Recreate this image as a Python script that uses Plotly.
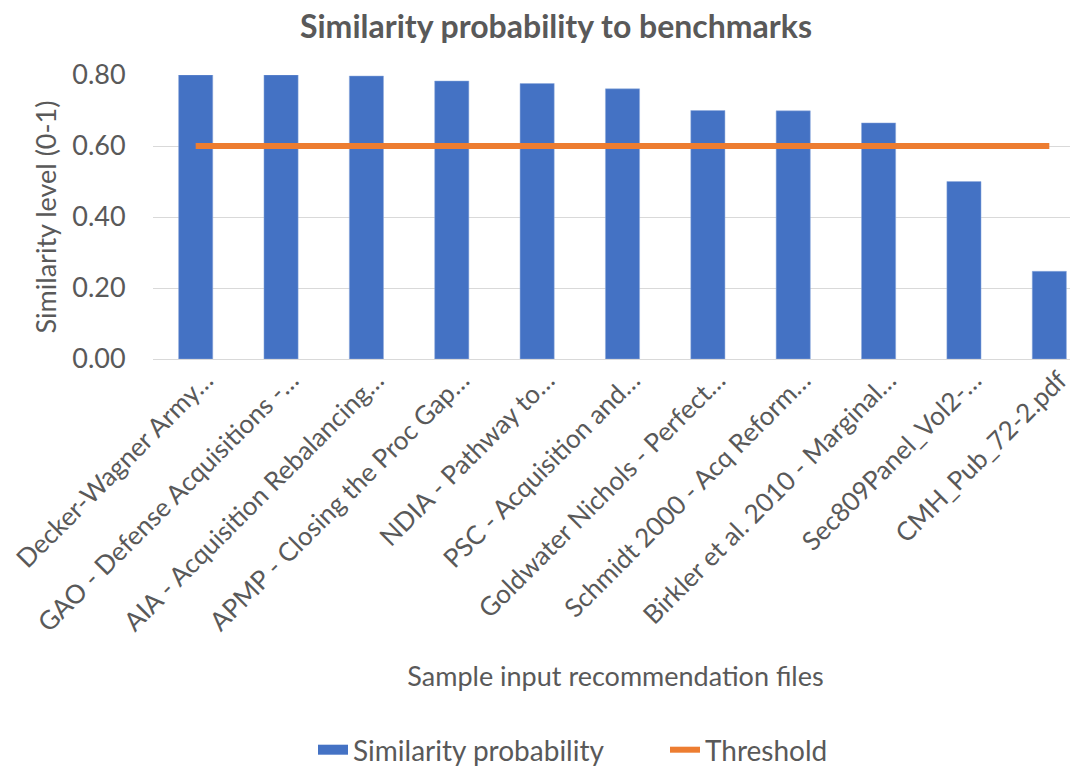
import plotly.graph_objects as go

categories = [
    "Decker-Wagner Army…",
    "GAO - Defense Acquisitions -…",
    "AIA - Acquisition Rebalancing…",
    "APMP - Closing the Proc Gap…",
    "NDIA - Pathway to…",
    "PSC - Acquisition and…",
    "Goldwater Nichols - Perfect…",
    "Schmidt 2000 - Acq Reform…",
    "Birkler et al. 2010 - Marginal…",
    "Sec809Panel_Vol2-…",
    "CMH_Pub_72-2.pdf",
]
similarity = [0.80, 0.80, 0.797, 0.783, 0.776, 0.761, 0.70, 0.699, 0.665, 0.50, 0.247]
threshold = [0.60] * len(categories)
y_ticks = [0.0, 0.2, 0.4, 0.6, 0.8]

FONT = "Lato"
GREY = "#595959"
BLUE = "#4472C4"
ORANGE = "#ED7D31"
FS = 27
W, H = 1070, 758  # page body has an 8px margin

fig = go.Figure()
fig.add_trace(go.Bar(
    x=categories, y=similarity, name="Similarity probability",
    marker=dict(color=BLUE, line=dict(color="#8FAADC", width=0.5)),
    showlegend=False,
))
# legend swatch for the bars (wide rectangle like the original)
fig.add_trace(go.Scatter(
    x=[None], y=[None], name="Similarity probability", mode="lines",
    line=dict(color=BLUE, width=17), showlegend=True,
))
fig.add_trace(go.Scatter(
    x=categories, y=threshold, name="Threshold", mode="lines",
    line=dict(color=ORANGE, width=6), showlegend=True,
))

fig.update_layout(
    width=W, height=H,
    margin=dict(l=145, r=0, t=67, b=407, autoexpand=False),
    paper_bgcolor="white", plot_bgcolor="white",
    bargap=0.6,
    font=dict(family=FONT, color=GREY, size=FS),
    title=dict(text="<b>Similarity probability to benchmarks</b>",
               x=548 / W, xref="container", xanchor="center",
               y=1 - 19 / H, yref="container", yanchor="middle",
               font=dict(family=FONT, size=32, color=GREY)),
    showlegend=True,
    legend=dict(orientation="h", x=305 / W, xref="container", xanchor="left",
                y=1 - 742 / H, yref="container", yanchor="middle",
                font=dict(family=FONT, size=28, color=GREY), itemwidth=30,
                entrywidth=307, entrywidthmode="pixels",
                bgcolor="rgba(0,0,0,0)", tracegroupgap=0),
)
fig.update_xaxes(
    type="category", range=[-0.5, 10.336], tickangle=-45, automargin=False,
    showgrid=False, showline=False, ticks="", ticklabelshift=10,
    tickfont=dict(family=FONT, size=26, color=GREY),
    title=dict(text="Sample input recommendation files", standoff=30,
               font=dict(family=FONT, size=FS, color=GREY)),
)
fig.update_yaxes(
    range=[0, 0.8], tickvals=y_ticks, tickformat=".2f", automargin=False,
    showgrid=True, gridcolor="#D9D9D9", gridwidth=1,
    zeroline=True, zerolinecolor="#D9D9D9", zerolinewidth=1,
    showline=False, ticks="outside", ticklen=21, tickcolor="rgba(0,0,0,0)",
    tickfont=dict(family=FONT, size=FS, color=GREY),
    title=dict(text="Similarity level (0-1)", standoff=7,
               font=dict(family=FONT, size=FS, color=GREY)),
)

fig.write_html("out.html")
